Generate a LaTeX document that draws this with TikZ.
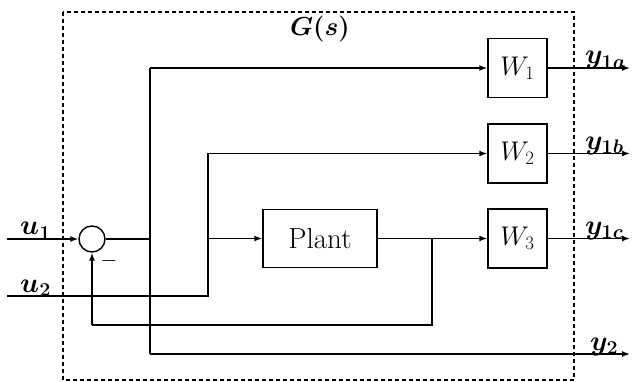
\RequirePackage{fix-cm}
\documentclass[tikz,border=0pt]{standalone}
\usetikzlibrary{arrows.meta}
\begin{document}
\begin{tikzpicture}[x=1pt,y=-1pt,
  wire/.style={line width=1.5pt},
  arr/.style={wire,-{Latex[length=8pt,width=6pt]}},
  blk/.style={draw,line width=1.4pt,rectangle,inner sep=0pt},
  wbox/.style={blk,minimum width=59pt,minimum height=59pt,font=\fontsize{27}{32}\selectfont},
  lab/.style={font=\fontsize{28}{32}\selectfont\boldmath,inner sep=0pt},
  frame/.style={line width=1.5pt,dash pattern=on 4pt off 3pt}]
\useasboundingbox (0,0) rectangle (632,382);
% frame
\draw[frame] (63,12) rectangle (574,380);
\node[lab,font=\fontsize{26}{30}\selectfont\boldmath] (G) at (320,29) {$G(s)$};
% blocks
\node[draw,circle,line width=1.4pt,minimum size=26pt,inner sep=0pt] (sum) at (92,239) {};
\node[blk,minimum width=114pt,minimum height=58pt,font=\fontsize{29}{34}\selectfont] (plant) at (320,238.5) {Plant};
\node[wbox] (W1) at (517.5,68) {$W_1$};
\node[wbox] (W2) at (517.5,153.5) {$W_2$};
\node[wbox] (W3) at (517.5,238.5) {$W_3$};
% coordinates
\coordinate (in1) at (7,239);
\coordinate (in2) at (7,296);
\coordinate (eA) at (150,239);
\coordinate (eTop) at (150,68);
\coordinate (eBot) at (150,354);
\coordinate (uA) at (208,296);
\coordinate (uTop) at (208,153.5);
\coordinate (uMid) at (208,238.5);
\coordinate (pB) at (432,238.5);
\coordinate (pC) at (432,325);
\coordinate (fb) at (92,325);
\coordinate (o1) at (630,68);
\coordinate (o2) at (630,153.5);
\coordinate (o3) at (630,238.5);
\coordinate (o4) at (630,354);
% wires
\draw[arr] (in1) -- (sum.west);
\draw[wire] (sum.east) -- (eA);
\draw[wire] (eTop) -- (eBot);
\draw[arr] (eTop) -- (W1.west);
\draw[arr] (eBot) -- (o4);
\draw[wire] (in2) -- (uA) -- (uTop);
\draw[arr] (uTop) -- (W2.west);
\draw[arr] (uMid) -- (plant.west);
\draw[arr] (plant.east) -- (W3.west);
\draw[wire] (pB) -- (pC) -- (fb);
\draw[arr] (fb) -- (sum.south);
\draw[arr] (W1.east) -- (o1);
\draw[arr] (W2.east) -- (o2);
\draw[arr] (W3.east) -- (o3);
% labels
\node[lab,anchor=base west] (lu1) at (20,235) {$u_1$};
\node[lab,anchor=base west] (lu2) at (20,292) {$u_2$};
\node[lab,font=\fontsize{22}{26}\selectfont] (minus) at (109,261) {$-$};
\node[lab,anchor=base west] (ly1a) at (585,64) {$y_{1a}$};
\node[lab,anchor=base west] (ly1b) at (585,149.5) {$y_{1b}$};
\node[lab,anchor=base west] (ly1c) at (585,234.5) {$y_{1c}$};
\node[lab,anchor=base west] (ly2) at (590,350) {$y_2$};
\end{tikzpicture}
\end{document}
